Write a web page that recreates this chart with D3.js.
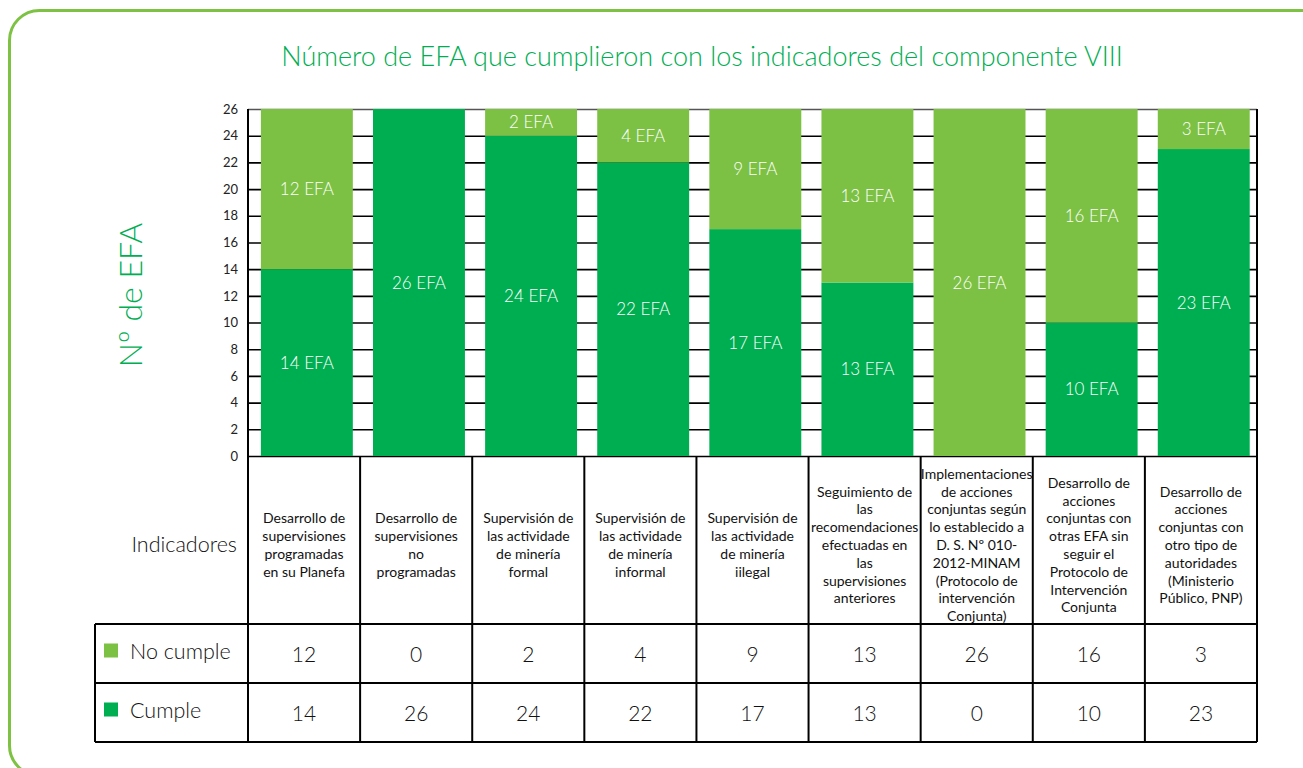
<!DOCTYPE html>
<html>
<head>
<meta charset="utf-8">
<script src="https://cdn.jsdelivr.net/npm/d3@7"></script>
<style>
    html, body { margin: 0; padding: 0; background: #fff; }
    svg { display: block; font-family: Lato, 'Open Sans', sans-serif; }
</style>
</head>
<body>
<div id="chart"></div>
<script>
// datos
const indicadores = [
    ['Desarrollo de', 'supervisiones', 'programadas', 'en su Planefa'],
    ['Desarrollo de', 'supervisiones', 'no', 'programadas'],
    ['Supervisión de', 'las actividade', 'de minería', 'formal'],
    ['Supervisión de', 'las actividade', 'de minería', 'informal'],
    ['Supervisión de', 'las actividade', 'de minería', 'iilegal'],
    ['Seguimiento de', 'las', 'recomendaciones', 'efectuadas en', 'las', 'supervisiones', 'anteriores'],
    ['Implementaciones', 'de acciones', 'conjuntas según', 'lo establecido a', 'D. S. Nº 010-', '2012-MINAM', '(Protocolo de', 'intervención', 'Conjunta)'],
    ['Desarrollo de', 'acciones', 'conjuntas con', 'otras EFA sin', 'seguir el', 'Protocolo de', 'Intervención', 'Conjunta'],
    ['Desarrollo de', 'acciones', 'conjuntas con', 'otro tipo de', 'autoridades', '(Ministerio', 'Público, PNP)'],
];
const noCumple = [12, 0, 2, 4, 9, 13, 26, 16, 3];
const cumple = [14, 26, 24, 22, 17, 13, 0, 10, 23];
const yTicks = [0, 2, 4, 6, 8, 10, 12, 14, 16, 18, 20, 22, 24, 26];

const titulo = 'Número de EFA que cumplieron con los indicadores del componente VIII';
const series = [
    { key: 'noCumple', label: 'No cumple', color: '#7cc144' },
    { key: 'cumple', label: 'Cumple', color: '#00ae52' },
];

const width = 1303;
const height = 768;
const plotLeft = 248;
const plotRight = 1257;
const plotTop = 109;
const zero = 456;
const tableLeft = 95;
const rowTops = [624, 683, 742];

const svg = d3.select('#chart')
    .append('svg')
    .attr('width', width)
    .attr('height', height);

// marco verde
svg.append('rect')
    .attr('x', 9.5)
    .attr('y', 10.5)
    .attr('width', 1400)
    .attr('height', 765)
    .attr('rx', 30)
    .attr('fill', 'none')
    .attr('stroke', '#7dc242')
    .attr('stroke-width', 3);

svg.append('text')
    .attr('x', 702)
    .attr('y', 66)
    .attr('text-anchor', 'middle')
    .attr('fill', '#00ae52')
    .style('font-size', '27px')
    .style('font-weight', 300)
    .text(titulo);

const x = d3.scaleBand()
    .domain(d3.range(indicadores.length))
    .range([plotLeft, plotRight]);

const y = d3.scaleLinear()
    .domain([0, 26])
    .range([zero, plotTop]);

// eje y con lineas de cuadricula
const yAxis = svg.append('g')
    .attr('transform', 'translate(' + plotLeft + ',0)')
    .call(d3.axisLeft(y)
        .tickValues(yTicks)
        .tickSize(-(plotRight - plotLeft))
        .tickPadding(10));

yAxis.select('.domain').remove();
yAxis.selectAll('.tick line')
    .attr('stroke', (d) => d === 26 ? '#555' : '#000')
    .attr('stroke-width', 1.6);
yAxis.selectAll('.tick text')
    .attr('fill', '#222')
    .style('font-size', '13px')
    .style('font-family', 'Lato, sans-serif');

svg.append('text')
    .attr('transform', 'translate(142,295) rotate(-90)')
    .attr('text-anchor', 'middle')
    .attr('fill', '#00ae52')
    .style('font-size', '32px')
    .style('font-weight', 300)
    .text('Nº de EFA');

// barras apiladas
const rows = indicadores.map((d, i) => ({ i: i, cumple: cumple[i], noCumple: noCumple[i] }));
const stacked = d3.stack().keys(['cumple', 'noCumple'])(rows);

const layers = svg.selectAll('.layer')
    .data(stacked)
    .enter()
    .append('g')
    .attr('class', 'layer')
    .attr('fill', (d) => series.find((s) => s.key === d.key).color);

layers.selectAll('rect')
    .data((d) => d)
    .enter()
    .append('rect')
    .attr('x', (d) => x(d.data.i) + x.bandwidth() * 0.115)
    .attr('width', x.bandwidth() * 0.82)
    .attr('y', (d) => y(d[1]))
    .attr('height', (d) => y(d[0]) - y(d[1]));

layers.selectAll('text')
    .data((d) => d.filter((p) => p[1] - p[0] > 0))
    .enter()
    .append('text')
    .attr('x', (d) => x(d.data.i) + x.bandwidth() * 0.525)
    .attr('y', (d) => (y(d[0]) + y(d[1])) / 2 + 6)
    .attr('text-anchor', 'middle')
    .attr('fill', '#fff')
    .style('font-size', '17px')
    .style('font-weight', 300)
    .text((d) => (d[1] - d[0]) + ' EFA');

// tabla
const lines = svg.append('g')
    .attr('stroke', '#000')
    .attr('stroke-width', 2);

lines.append('line')
    .attr('x1', plotLeft).attr('x2', plotLeft)
    .attr('y1', plotTop).attr('y2', rowTops[2]);
lines.append('line')
    .attr('x1', plotRight).attr('x2', plotRight)
    .attr('y1', plotTop).attr('y2', rowTops[2]);
lines.append('line')
    .attr('x1', tableLeft).attr('x2', tableLeft)
    .attr('y1', rowTops[0]).attr('y2', rowTops[2]);

lines.selectAll('.row')
    .data(rowTops)
    .enter()
    .append('line')
    .attr('x1', tableLeft).attr('x2', plotRight)
    .attr('y1', (d) => d).attr('y2', (d) => d);

lines.selectAll('.col')
    .data(d3.range(1, indicadores.length))
    .enter()
    .append('line')
    .attr('x1', (d) => x(d)).attr('x2', (d) => x(d))
    .attr('y1', zero).attr('y2', rowTops[2]);

svg.append('text')
    .attr('x', 237)
    .attr('y', 552)
    .attr('text-anchor', 'end')
    .attr('fill', '#111')
    .style('font-size', '21.5px')
    .style('font-weight', 300)
    .text('Indicadores');

const lineH = 17.8;
const headers = svg.selectAll('.hdr')
    .data(indicadores)
    .enter()
    .append('text')
    .attr('text-anchor', 'middle')
    .attr('fill', '#111')
    .style('font-size', '14px');

headers.selectAll('tspan')
    .data((d, i) => d.map((t, j) => ({ t: t, i: i, j: j, n: d.length })))
    .enter()
    .append('tspan')
    .attr('x', (d) => x(d.i) + x.bandwidth() / 2)
    .attr('y', (d) => 545 + (d.j - (d.n - 1) / 2) * lineH + 5)
    .text((d) => d.t);

// filas de valores con leyenda
const valores = { noCumple: noCumple, cumple: cumple };
series.forEach((s, r) => {
    const cy = (rowTops[r] + rowTops[r + 1]) / 2;
    svg.append('rect')
        .attr('x', 104)
        .attr('y', cy - 10)
        .attr('width', 14)
        .attr('height', 14)
        .attr('fill', s.color);
    svg.append('text')
        .attr('x', 130)
        .attr('y', cy + 5)
        .attr('fill', '#111')
        .style('font-size', '21.5px')
        .style('font-weight', 300)
        .text(s.label);
    svg.selectAll('.v' + r)
        .data(valores[s.key])
        .enter()
        .append('text')
        .attr('x', (d, i) => x(i) + x.bandwidth() / 2)
        .attr('y', cy + 8)
        .attr('text-anchor', 'middle')
        .attr('fill', '#111')
        .style('font-size', '21px')
        .style('font-weight', 300)
        .text((d) => d);
});
</script>
</body>
</html>
